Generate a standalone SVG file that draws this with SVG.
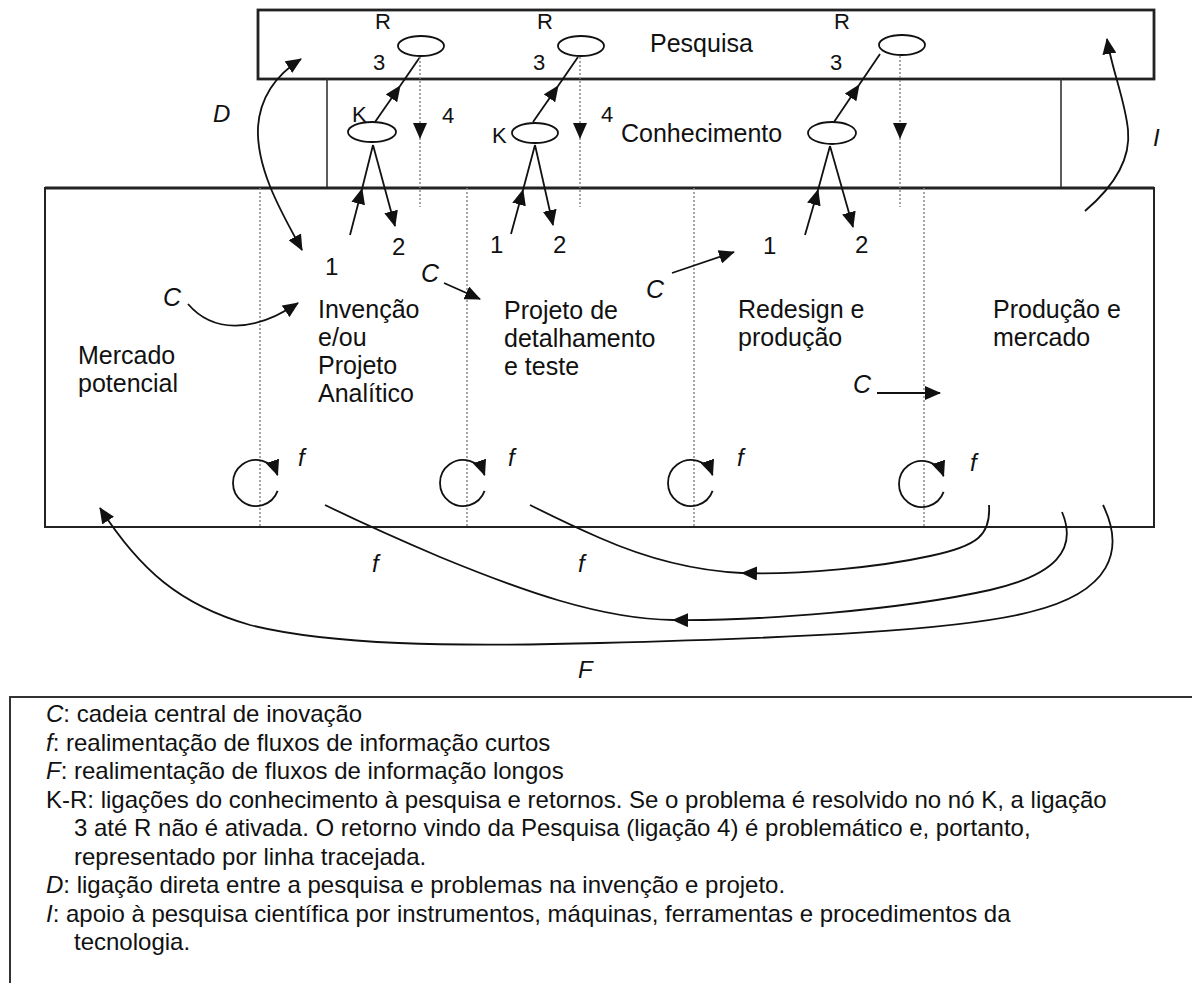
<svg xmlns="http://www.w3.org/2000/svg" width="1192" height="983" viewBox="0 0 1192 983">
  <style>
    .box { fill: none; stroke: #222; stroke-width: 2; }
    .thick { stroke-width: 2.8; }
    .thin { fill: none; stroke: #333; stroke-width: 1.6; }
    .div { stroke: #888; stroke-width: 1.5; stroke-dasharray: 2 2; fill: none; }
    .ell { fill: #fff; stroke: #111; stroke-width: 1.8; }
    .ln { fill: none; stroke: #111; stroke-width: 1.8; }
    text { font-family: "Liberation Sans", Arial, Helvetica, sans-serif; fill: #111; }
    .t25 { font-size: 25px; }
    .t24 { font-size: 24px; }
    .t22 { font-size: 22px; }
    .it { font-style: italic; }
  </style>
  <defs>
    <marker id="ah" viewBox="0 0 16 14" markerWidth="16" markerHeight="14" refX="15" refY="7" orient="auto" markerUnits="userSpaceOnUse">
      <path d="M0,0 L16,7 L0,14 z" fill="#111"/>
    </marker>
    <marker id="ahs" viewBox="0 0 16 14" markerWidth="16" markerHeight="14" refX="15" refY="7" orient="auto-start-reverse" markerUnits="userSpaceOnUse">
      <path d="M0,0 L16,7 L0,14 z" fill="#111"/>
    </marker>
  </defs>
  <rect width="1192" height="983" fill="#fff"/>

  <!-- Research band -->
  <g id="pesquisa">
    <rect class="box thick" x="258" y="10" width="896" height="69"/>
    <text class="t25" x="650" y="52">Pesquisa</text>
  </g>

  <!-- Knowledge band -->
  <g id="conhecimento">
    <line class="thin" x1="327" y1="79" x2="327" y2="188"/>
    <line class="thin" x1="1061" y1="79" x2="1061" y2="188"/>
    <text class="t25" x="621" y="142">Conhecimento</text>
  </g>

  <!-- Main chain box with stage dividers -->
  <g id="cadeia">
    <rect class="box" x="45" y="188" width="1109" height="339"/>
    <line class="box thick" x1="45" y1="188" x2="1154" y2="188"/>
    <line class="div" x1="260" y1="188" x2="260" y2="527"/>
    <line class="div" x1="467" y1="188" x2="467" y2="527"/>
    <line class="div" x1="694" y1="188" x2="694" y2="527"/>
    <line class="div" x1="924" y1="188" x2="924" y2="527"/>
  </g>

  <g id="stage-mercado">
    <text class="t25" x="78" y="364">Mercado</text>
    <text class="t25" x="78" y="392">potencial</text>
  </g>
  <g id="stage-invencao">
    <text class="t25" x="318" y="318">Invenção</text>
    <text class="t25" x="318" y="346">e/ou</text>
    <text class="t25" x="318" y="374">Projeto</text>
    <text class="t25" x="318" y="402">Analítico</text>
  </g>
  <g id="stage-projeto">
    <text class="t25" x="504" y="319">Projeto de</text>
    <text class="t25" x="504" y="347">detalhamento</text>
    <text class="t25" x="504" y="375">e teste</text>
  </g>
  <g id="stage-redesign">
    <text class="t25" x="738" y="318">Redesign e</text>
    <text class="t25" x="738" y="346">produção</text>
  </g>
  <g id="stage-producao">
    <text class="t25" x="993" y="318">Produção e</text>
    <text class="t25" x="993" y="346">mercado</text>
  </g>

  <!-- R nodes (research) -->
  <g id="r1">
    <ellipse class="ell" cx="421" cy="46" rx="23" ry="10"/>
    <text class="t22" x="375" y="29">R</text>
    <text class="t22" x="373" y="70">3</text>
  </g>
  <g id="r2">
    <ellipse class="ell" cx="581" cy="46" rx="23" ry="10"/>
    <text class="t22" x="537" y="29">R</text>
    <text class="t22" x="533" y="70">3</text>
  </g>
  <g id="r3">
    <ellipse class="ell" cx="902" cy="45" rx="23" ry="10"/>
    <text class="t22" x="834" y="29">R</text>
    <text class="t22" x="830" y="70">3</text>
  </g>

  <!-- K nodes (knowledge) -->
  <g id="k1">
    <ellipse class="ell" cx="372" cy="132" rx="24" ry="10"/>
    <text class="t22" x="352" y="122">K</text>
  </g>
  <g id="k2">
    <ellipse class="ell" cx="535" cy="133" rx="23" ry="10"/>
    <text class="t22" x="492" y="143">K</text>
  </g>
  <g id="k3">
    <ellipse class="ell" cx="832" cy="133" rx="24" ry="11"/>
  </g>

  <!-- Link labels -->
  <g id="labels">
    <text class="t22" x="442" y="123">4</text>
    <text class="t22" x="601" y="122">4</text>
    <text class="t24" x="325" y="275">1</text>
    <text class="t24" x="392" y="255">2</text>
    <text class="t24" x="490" y="253">1</text>
    <text class="t24" x="553" y="253">2</text>
    <text class="t24" x="763" y="254">1</text>
    <text class="t24" x="855" y="253">2</text>
    <text class="t24 it" x="213" y="122">D</text>
    <text class="t24 it" x="1153" y="146">I</text>
    <text class="t25 it" x="163" y="306">C</text>
    <text class="t25 it" x="421" y="282">C</text>
    <text class="t25 it" x="646" y="298">C</text>
    <text class="t25 it" x="853" y="393">C</text>
    <text class="t24 it" x="298" y="466">f</text>
    <text class="t24 it" x="508" y="466">f</text>
    <text class="t24 it" x="737" y="466">f</text>
    <text class="t24 it" x="970" y="471">f</text>
    <text class="t24 it" x="372" y="572">f</text>
    <text class="t24 it" x="578" y="572">f</text>
    <text class="t24 it" x="578" y="678">F</text>
  </g>

  <!-- Connectors -->
  <g id="connectors">
    <!-- K to R (link 3) -->
    <line class="ln" x1="375" y1="122" x2="400" y2="86" marker-end="url(#ah)"/>
    <line class="ln" x1="400" y1="86" x2="420" y2="57"/>
    <line class="ln" x1="533" y1="122" x2="558" y2="86" marker-end="url(#ah)"/>
    <line class="ln" x1="558" y1="86" x2="578" y2="57"/>
    <line class="ln" x1="834" y1="122" x2="859" y2="85" marker-end="url(#ah)"/>
    <line class="ln" x1="859" y1="85" x2="880" y2="54"/>

    <!-- R back to chain (link 4, dotted) -->
    <line class="div" x1="420" y1="57" x2="420" y2="138" marker-end="url(#ah)"/>
    <line class="div" x1="420" y1="138" x2="420" y2="207"/>
    <line class="div" x1="580" y1="57" x2="580" y2="138" marker-end="url(#ah)"/>
    <line class="div" x1="580" y1="138" x2="580" y2="207"/>
    <line class="div" x1="900" y1="56" x2="900" y2="138" marker-end="url(#ah)"/>
    <line class="div" x1="900" y1="138" x2="900" y2="207"/>

    <!-- chain to K (link 1) and K to chain (link 2) -->
    <line class="ln" x1="350" y1="235" x2="362" y2="189" marker-end="url(#ah)"/>
    <line class="ln" x1="362" y1="189" x2="373" y2="145"/>
    <line class="ln" x1="373" y1="145" x2="395" y2="226" marker-end="url(#ah)"/>
    <line class="ln" x1="511" y1="234" x2="523" y2="190" marker-end="url(#ah)"/>
    <line class="ln" x1="523" y1="190" x2="535" y2="145"/>
    <line class="ln" x1="535" y1="145" x2="553" y2="225" marker-end="url(#ah)"/>
    <line class="ln" x1="805" y1="235" x2="818" y2="190" marker-end="url(#ah)"/>
    <line class="ln" x1="818" y1="190" x2="830" y2="146"/>
    <line class="ln" x1="830" y1="146" x2="853" y2="227" marker-end="url(#ah)"/>

    <!-- D: direct research link -->
    <path class="ln" d="M302,250 C283,215 256,170 258,127 C260,98 276,75 301,59" marker-start="url(#ahs)" marker-end="url(#ahs)"/>
    <!-- I: support to research -->
    <path class="ln" d="M1085,211 C1112,188 1131,160 1128,130 C1125,100 1112,70 1107,39" marker-end="url(#ah)"/>

    <!-- C: central chain -->
    <path class="ln" d="M188,304 C212,332 252,334 298,303" marker-end="url(#ah)"/>
    <line class="ln" x1="444" y1="283" x2="480" y2="299" marker-end="url(#ah)"/>
    <line class="ln" x1="672" y1="273" x2="734" y2="252" marker-end="url(#ah)"/>
    <line class="ln" x1="877" y1="393" x2="940" y2="393" marker-end="url(#ah)"/>

    <!-- f: short feedback loops -->
    <path class="ln" d="M277.6,490.9 A23,23 0 1 1 277.6,475.1" marker-end="url(#ah)"/>
    <path class="ln" d="M484.6,490.9 A23,23 0 1 1 484.6,475.1" marker-end="url(#ah)"/>
    <path class="ln" d="M712.6,490.9 A23,23 0 1 1 712.6,475.1" marker-end="url(#ah)"/>
    <path class="ln" d="M943.6,491.9 A23,23 0 1 1 943.6,476.1" marker-end="url(#ah)"/>

    <!-- f: feedback between stages -->
    <path class="ln" d="M989,505 C991,535 978,546 930,556 C880,567 800,575 742,573" marker-end="url(#ah)"/>
    <path class="ln" d="M742,573 C700,571 650,560 600,538 C570,525 550,515 530,505"/>
    <path class="ln" d="M1062,512 C1078,550 1055,575 990,590 C900,610 760,621 673,620" marker-end="url(#ah)"/>
    <path class="ln" d="M673,620 C600,619 520,590 440,557 C400,540 360,522 325,505"/>

    <!-- F: long feedback -->
    <path class="ln" d="M1103,505 C1125,550 1112,592 1030,612 C960,630 800,638 600,643 C450,647 330,645 250,625 C180,605 140,570 100,508" marker-end="url(#ah)"/>
  </g>

  <!-- Key -->
  <g id="legenda">
    <path d="M10,983 V697 H1192" fill="none" stroke="#333" stroke-width="2"/>
    <text class="t24" x="46" y="722"><tspan class="it">C</tspan>: cadeia central de inovação</text>
    <text class="t24" x="46" y="750.5"><tspan class="it">f</tspan>: realimentação de fluxos de informação curtos</text>
    <text class="t24" x="46" y="779"><tspan class="it">F</tspan>: realimentação de fluxos de informação longos</text>
    <text class="t24" x="46" y="807.5">K-R: ligações do conhecimento à pesquisa e retornos. Se o problema é resolvido no nó K, a ligação</text>
    <text class="t24" x="74" y="836">3 até R não é ativada. O retorno vindo da Pesquisa (ligação 4) é problemático e, portanto,</text>
    <text class="t24" x="74" y="864.5">representado por linha tracejada.</text>
    <text class="t24" x="46" y="893"><tspan class="it">D</tspan>: ligação direta entre a pesquisa e problemas na invenção e projeto.</text>
    <text class="t24" x="46" y="921.5"><tspan class="it">I</tspan>: apoio à pesquisa científica por instrumentos, máquinas, ferramentas e procedimentos da</text>
    <text class="t24" x="74" y="950">tecnologia.</text>
  </g>
</svg>
